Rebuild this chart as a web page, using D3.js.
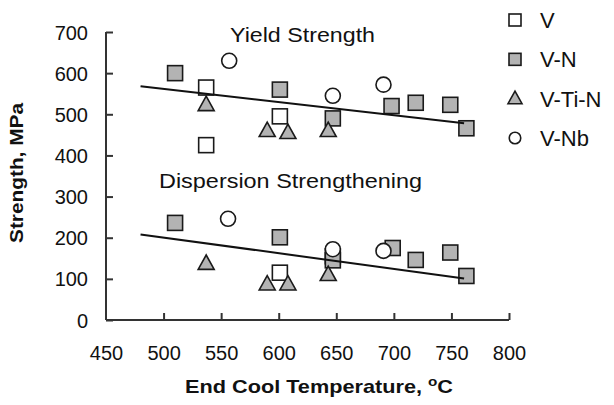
<!DOCTYPE html>
<html><head><meta charset="utf-8">
<script src="https://cdn.jsdelivr.net/npm/d3@7"></script>
<style>body{margin:0;background:#fff}svg{display:block}</style>
</head><body><div id="chart"></div>
<script>
const seriesNames = ["V", "V-N", "V-Ti-N", "V-Nb"];
const seriesShapes = ["square", "square", "triangle", "circle"];
const seriesFills = ["#ffffff", "#b3b3b3", "#b3b3b3", "#ffffff"];

// End cool temperature (°C) and strength (MPa) per series (yield + dispersion points)
const vTemp =   [537, 537, 601, 601, 647];
const vStr =    [565, 425, 495, 115, 155];
const vnTemp =  [510, 601, 647, 698, 719, 749, 763, 510, 601, 647, 699, 719, 749, 763];
const vnStr =   [600, 560, 490, 520, 528, 523, 466, 236, 201, 145, 175, 146, 164, 107];
const vtinTemp = [537, 590, 608, 643, 537, 590, 608, 643];
const vtinStr =  [523, 460, 455, 460, 137, 87, 87, 110];
const vnbTemp = [557, 647, 691, 556, 647, 691];
const vnbStr =  [630, 545, 572, 246, 172, 168];

// Trend lines [temp, strength]
const yieldTrend = [[480, 568], [761, 478]];
const dispTrend = [[480, 208], [761, 101]];

const xTicks = [450, 500, 550, 600, 650, 700, 750, 800];
const yTicks = [0, 100, 200, 300, 400, 500, 600, 700];

const W = 614, H = 405;
const svg = d3.select("#chart").append("svg").attr("width", W).attr("height", H)
  .style("font-family", "Liberation Sans, Arial, sans-serif");

const x = d3.scaleLinear().domain([450, 800]).range([106, 509]);
const y = d3.scaleLinear().domain([0, 700]).range([320, 32]);
const axisColor = "#333";

// axes
const xAxis = svg.append("g").attr("transform", `translate(0,${y(0)})`)
  .call(d3.axisBottom(x).tickValues(xTicks).tickSize(-7).tickPadding(0).tickFormat(d3.format("d")));
const yAxis = svg.append("g").attr("transform", `translate(${x(450)},0)`)
  .call(d3.axisLeft(y).tickValues(yTicks).tickSize(-7).tickPadding(0).tickFormat(d3.format("d")));
[xAxis, yAxis].forEach(g => {
  g.select(".domain").attr("stroke", axisColor).attr("stroke-width", 2);
  g.selectAll(".tick line").attr("stroke", axisColor).attr("stroke-width", 2);
  g.selectAll(".tick text").attr("fill", "#111").style("font-size", "20px");
});
xAxis.select(".domain").attr("d", `M${x(450)},0H${x(800)}`);
yAxis.select(".domain").attr("d", `M0,${y(0)}V${y(700)}`);
xAxis.selectAll(".tick").filter(d => d === 450).select("line").remove();
xAxis.selectAll(".tick text").attr("y", 40).attr("dy", 0);
yAxis.selectAll(".tick text").attr("x", -18).attr("dy", "0.35em");

// markers
const sq = 15, tri = 16, circR = 7.5;
function drawMarker(g, shape, cx, cy, fill, s) {
  if (shape === "square") {
    g.append("rect").attr("x", cx - s / 2).attr("y", cy - s / 2).attr("width", s).attr("height", s)
      .attr("fill", fill).attr("stroke", "#1a1a1a").attr("stroke-width", 1.6);
  } else if (shape === "triangle") {
    const h = s * 0.9;
    g.append("path").attr("d", `M${cx},${cy - h * 0.6}L${cx + s / 2},${cy + h * 0.4}L${cx - s / 2},${cy + h * 0.4}Z`)
      .attr("fill", fill).attr("stroke", "#1a1a1a").attr("stroke-width", 1.6).attr("stroke-linejoin", "miter");
  } else {
    g.append("circle").attr("cx", cx).attr("cy", cy).attr("r", s / 2)
      .attr("fill", fill).attr("stroke", "#1a1a1a").attr("stroke-width", 1.6);
  }
}
const seriesData = [[vTemp, vStr], [vnTemp, vnStr], [vtinTemp, vtinStr], [vnbTemp, vnbStr]];
const drawOrder = [0, 1, 2, 3];
const pts = svg.append("g");
drawOrder.forEach(i => {
  const [t, s] = seriesData[i];
  const size = seriesShapes[i] === "circle" ? circR * 2 : (seriesShapes[i] === "triangle" ? tri : sq);
  t.forEach((tv, j) => drawMarker(pts, seriesShapes[i], x(tv), y(s[j]), seriesFills[i], size));
});

// trend lines
const line = d3.line().x(d => x(d[0])).y(d => y(d[1]));
[yieldTrend, dispTrend].forEach(tr => {
  svg.append("path").attr("d", line(tr)).attr("fill", "none").attr("stroke", "#111").attr("stroke-width", 2);
});

// annotations
svg.append("text").attr("x", 230).attr("y", 42).attr("textLength", 145).attr("lengthAdjust", "spacingAndGlyphs")
  .style("font-size", "21px").attr("fill", "#111").text("Yield Strength");
svg.append("text").attr("x", 159).attr("y", 188).attr("textLength", 263).attr("lengthAdjust", "spacingAndGlyphs")
  .style("font-size", "21px").attr("fill", "#111").text("Dispersion Strengthening");

// axis titles
const xt = svg.append("text").attr("x", 185).attr("y", 393).attr("textLength", 268).attr("lengthAdjust", "spacingAndGlyphs")
  .style("font-size", "18.5px").style("font-weight", "bold").attr("fill", "#111");
xt.append("tspan").text("End Cool Temperature, ");
xt.append("tspan").attr("dy", -7).style("font-size", "13px").text("o");
xt.append("tspan").attr("dy", 7).text("C");
svg.append("text").attr("transform", "translate(23,173) rotate(-90)").attr("text-anchor", "middle")
  .attr("textLength", 140).attr("lengthAdjust", "spacingAndGlyphs")
  .style("font-size", "18.5px").style("font-weight", "bold").attr("fill", "#111").text("Strength, MPa");

// legend
const legY = d3.scalePoint().domain(seriesNames).range([20, 138]);
const leg = svg.append("g");
seriesNames.forEach((n, i) => {
  const cy = legY(n);
  const size = seriesShapes[i] === "circle" ? 11.5 : (seriesShapes[i] === "triangle" ? 14 : 12);
  drawMarker(leg, seriesShapes[i], 515, cy, seriesFills[i], size);
  leg.append("text").attr("x", 540).attr("y", cy).attr("dy", "0.36em").style("font-size", "22px")
    .attr("fill", "#111").text(n);
});
</script></body></html>
